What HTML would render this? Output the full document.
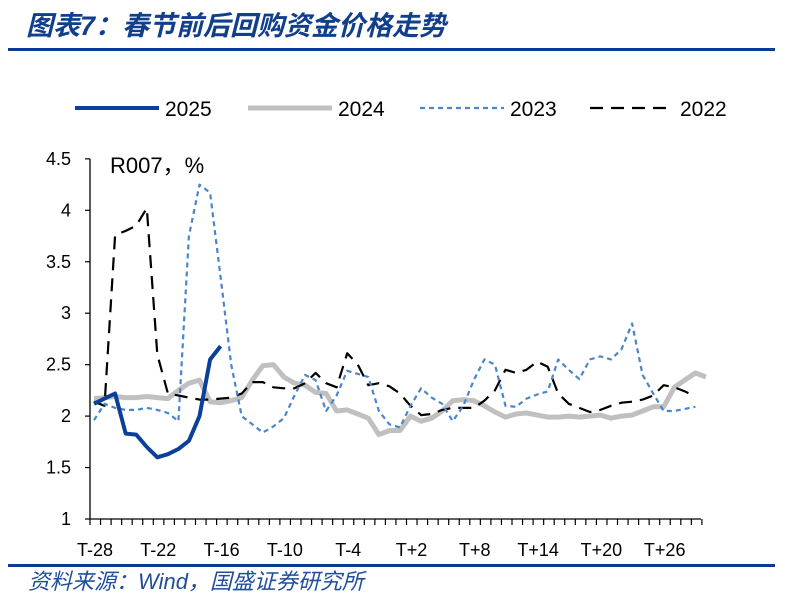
<!DOCTYPE html>
<html><head><meta charset="utf-8"><style>
body{margin:0;background:#fff;}
svg text{font-family:"Liberation Sans","Noto Sans CJK SC",sans-serif;}
</style></head><body>
<svg id="chart" width="791" height="596" viewBox="0 0 791 596" xmlns="http://www.w3.org/2000/svg">
<text x="26" y="35" font-size="27" font-weight="bold" font-style="italic" fill="#123f8c">图表7：春节前后回购资金价格走势</text>
<rect x="8" y="48" width="767" height="3" fill="#0a3d91"/>
<rect x="8" y="564" width="767" height="3" fill="#0a3d91"/>
<text x="28" y="589" font-size="22" font-style="italic" fill="#1f4e9a">资料来源：Wind，国盛证券研究所</text>
<text x="110" y="173" font-size="22" fill="#000">R007，%</text>
<g id="legend"></g>
<g id="axes"></g>
<g id="series"></g>
</svg>
<script>
const categories = [];
for (let i = -28; i <= 29; i++) categories.push(i === 0 ? 'T' : (i < 0 ? 'T' + i : 'T+' + i));
const xTickLabels = ['T-28','T-22','T-16','T-10','T-4','T+2','T+8','T+14','T+20','T+26'];
const yTicks = [1,1.5,2,2.5,3,3.5,4,4.5];
const yTickLabels = ['1','1.5','2','2.5','3','3.5','4','4.5'];
const seriesNames = ['2025','2024','2023','2022'];
const s2025 = [2.12,2.17,2.22,1.83,1.82,1.7,1.6,1.63,1.68,1.76,2.0,2.55,2.68];
const s2024 = [2.17,2.18,2.19,2.18,2.18,2.19,2.18,2.17,2.25,2.32,2.35,2.14,2.13,2.15,2.18,2.35,2.49,2.5,2.38,2.32,2.3,2.23,2.22,2.05,2.06,2.02,1.98,1.82,1.86,1.86,2.0,1.95,1.98,2.05,2.15,2.16,2.15,2.1,2.04,1.99,2.02,2.03,2.01,1.99,1.99,2.0,1.99,2.0,2.01,1.98,2.0,2.01,2.05,2.09,2.09,2.28,2.35,2.42,2.38];
const s2023 = [1.96,2.12,2.08,2.06,2.06,2.08,2.06,2.03,1.95,3.75,4.25,4.17,3.35,2.5,2.0,1.92,1.84,1.9,1.98,2.2,2.4,2.35,2.05,2.2,2.44,2.41,2.38,2.05,1.92,1.89,2.1,2.27,2.18,2.12,1.95,2.1,2.35,2.55,2.5,2.1,2.09,2.17,2.21,2.24,2.55,2.45,2.36,2.55,2.58,2.55,2.65,2.9,2.4,2.22,2.05,2.05,2.07,2.09];
const s2022 = [2.14,2.1,3.76,3.8,3.85,4.02,2.6,2.22,2.2,2.18,2.16,2.16,2.17,2.18,2.22,2.33,2.33,2.28,2.27,2.27,2.32,2.42,2.32,2.28,2.61,2.5,2.3,2.32,2.29,2.22,2.1,2.01,2.02,2.06,2.08,2.08,2.08,2.15,2.25,2.45,2.42,2.45,2.53,2.48,2.22,2.12,2.08,2.04,2.06,2.1,2.13,2.14,2.16,2.2,2.3,2.28,2.24,2.19];

const NS='http://www.w3.org/2000/svg';
const X0=94, DX=10.55, Y0=519, YPX=102.9;
function xScale(i){return X0 + i*DX;}
function yScale(v){return Y0 - (v-1)*YPX;}
function mk(tag, attrs, parent){const e=document.createElementNS(NS,tag);for(const k in attrs)e.setAttribute(k,attrs[k]);parent.appendChild(e);return e;}

const axes=document.getElementById('axes');
const yAxis=mk('line',{x1:90,y1:yScale(4.5),x2:90,y2:Y0,stroke:'#000','stroke-width':1.3},axes);


const xAxis=mk('line',{x1:90,y1:Y0,x2:701,y2:Y0,stroke:'#000','stroke-width':1.3},axes);


yTicks.forEach((v,k)=>{
  const y=yScale(v);
  const t=mk('line',{x1:85,y1:y,x2:90,y2:y,stroke:'#000','stroke-width':1.2},axes);
  
  
  const l=mk('text',{x:71,y:y+6,'font-size':18,'text-anchor':'end',fill:'#000'},axes);
  l.textContent=yTickLabels[k];
  
  
});
for(let i=0;i<=categories.length;i++){
  const x=90+i*DX;
  const t=mk('line',{x1:x,y1:Y0,x2:x,y2:Y0+6,stroke:'#000','stroke-width':1.2},axes);
  
  
}
xTickLabels.forEach(lb=>{
  const i=categories.indexOf(lb);
  const l=mk('text',{x:xScale(i)+1,y:556,'font-size':18,'text-anchor':'middle',fill:'#000'},axes);
  l.textContent=lb;
  
  
});

const styles={
 '2025':{stroke:'#0a409a',w:4,dash:''},
 '2024':{stroke:'#c0c0c0',w:5,dash:''},
 '2023':{stroke:'#4a86c8',w:2.2,dash:'5,4'},
 '2022':{stroke:'#000',w:2.2,dash:'13,8'}
};
const dataMap={'2025':s2025,'2024':s2024,'2023':s2023,'2022':s2022};
const sg=document.getElementById('series');
['2024','2022','2023','2025'].forEach(n=>{
  const d=dataMap[n].map((v,i)=>(i?'L':'M')+xScale(i).toFixed(1)+','+yScale(v).toFixed(1)).join('');
  const st=styles[n];
  const p=mk('path',{d:d,fill:'none',stroke:st.stroke,'stroke-width':st.w,'stroke-dasharray':st.dash,'stroke-linejoin':'round'},sg);
  
  
});

const lg=document.getElementById('legend');
const lx=[75,248,420,590];
seriesNames.forEach((n,k)=>{
  const st=styles[n];
  const l=mk('line',{x1:lx[k],y1:108,x2:lx[k]+84,y2:108,stroke:st.stroke,'stroke-width':st.w,'stroke-dasharray':st.dash},lg);
  
  
  const t=mk('text',{x:lx[k]+90,y:116,'font-size':21,fill:'#000'},lg);
  t.textContent=n;
  
  
});
</script>
</body></html>
